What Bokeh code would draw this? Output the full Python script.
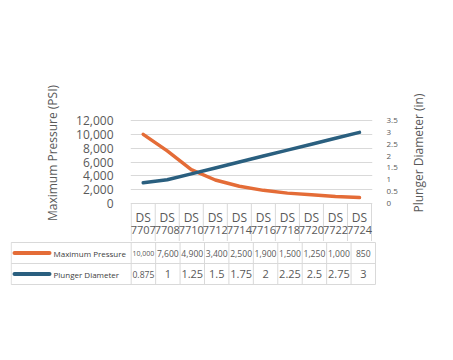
from bokeh.plotting import figure
from bokeh.models import (Range1d, LinearAxis, FixedTicker, NumeralTickFormatter,
                          ColumnDataSource)
from bokeh.layouts import column, row
from bokeh.core.properties import value
from bokeh.embed import file_html
from bokeh.resources import INLINE

# ---- data ----
categories = ["DS 7707", "DS 7708", "DS 7710", "DS 7712", "DS 7714",
              "DS 7716", "DS 7718", "DS 7720", "DS 7722", "DS 7724"]
max_pressure = [10000, 7600, 4900, 3400, 2500, 1900, 1500, 1250, 1000, 850]
plunger_diameter = [0.875, 1, 1.25, 1.5, 1.75, 2, 2.25, 2.5, 2.75, 3]
pressure_ticks = [0, 2000, 4000, 6000, 8000, 10000, 12000]
diameter_ticks = [0, 0.5, 1, 1.5, 2, 2.5, 3, 3.5]
series_names = ["Maximum Pressure", "Plunger Diameter"]

ORANGE = "#E46C37"
BLUE = "#2A5F7F"
GRID = "#D9D9D9"
TXT = "#595959"
FONT = "Open Sans"

n = len(categories)
xc = [i + 0.5 for i in range(n)]
colw = 24.43

# ---- chart figure ----
px_per_p = 83 / 12000.0
p = figure(width=400, height=241, title=None,
           x_range=Range1d(-0.0287, 10.041),
           y_range=Range1d(-38 / px_per_p, 12000 + 56 / px_per_p),
           output_backend="svg", toolbar_location=None,
           x_axis_location=None, y_axis_location="left",
           min_border_left=130, min_border_right=24,
           min_border_top=64, min_border_bottom=0)
p.frame_align = False
p.outline_line_color = None
p.xgrid.visible = False
p.ygrid.ticker = FixedTicker(ticks=pressure_ticks)
p.ygrid.grid_line_color = GRID
p.ygrid.grid_line_width = 1

ya = p.yaxis[0]
ya.ticker = FixedTicker(ticks=pressure_ticks)
ya.formatter = NumeralTickFormatter(format="0,0")
ya.axis_line_color = None
ya.major_tick_line_color = None
ya.minor_tick_line_color = None
ya.major_label_standoff = 11
ya.major_label_text_font = FONT
ya.major_label_text_font_size = "12px"
ya.major_label_text_color = TXT
ya.axis_label = "Maximum Pressure (PSI)"
ya.axis_label_text_font = FONT
ya.axis_label_text_font_size = "12px"
ya.axis_label_text_font_style = "normal"
ya.axis_label_text_color = TXT
ya.axis_label_standoff = 12

dscale = 3.5 / 83.0
p.extra_y_ranges = {"d": Range1d(-38 * dscale, 3.5 + 56 * dscale)}
ra = LinearAxis(y_range_name="d", ticker=FixedTicker(ticks=diameter_ticks),
                formatter=NumeralTickFormatter(format="0.[0]"))
ra.axis_line_color = None
ra.major_tick_line_color = None
ra.minor_tick_line_color = None
ra.major_label_standoff = 8
ra.major_label_text_font = FONT
ra.major_label_text_font_size = "8px"
ra.major_label_text_color = TXT
p.add_layout(ra, "right")

p.line(xc, max_pressure, line_color=ORANGE, line_width=3.5, line_cap="round", line_join="round")
p.line(xc, plunger_diameter, y_range_name="d", line_color=BLUE, line_width=3.5,
       line_cap="round", line_join="round")

# header cells of the data table (category labels)
bottom1 = p.y_range.start
p.segment(x0=list(range(n + 1)), x1=list(range(n + 1)),
          y0=[0] * (n + 1), y1=[bottom1] * (n + 1), line_color=GRID, line_width=1)
top_words = [c.split(" ")[0] for c in categories]
bot_words = [c.split(" ")[1] for c in categories]
p.text(x=xc, y=[-14 / px_per_p] * n, text=top_words, text_align="center",
       text_baseline="middle", text_font=value(FONT), text_font_size="12px", text_color=TXT)
p.text(x=xc, y=[-26 / px_per_p] * n, text=bot_words, text_align="center",
       text_baseline="middle", text_font=value(FONT), text_font_size="11px", text_color=TXT)

# ---- right-hand title strip (axis title reading bottom-to-top) ----
q = figure(width=40, height=241, title=None,
           x_range=Range1d(0, 1), y_range=Range1d(-1.6, 5.9),
           output_backend="svg", toolbar_location=None,
           x_axis_location=None, y_axis_location="left",
           min_border_left=26, min_border_right=4,
           min_border_top=64, min_border_bottom=0)
q.frame_align = False
q.outline_line_color = None
q.grid.visible = False
qa = q.yaxis[0]
qa.ticker = FixedTicker(ticks=[])
qa.axis_line_color = None
qa.major_tick_line_color = None
qa.minor_tick_line_color = None
qa.major_tick_out = 0
qa.major_label_standoff = 0
qa.axis_label = "Plunger Diameter (in)"
qa.axis_label_text_font = FONT
qa.axis_label_text_font_size = "12px"
qa.axis_label_text_font_style = "normal"
qa.axis_label_text_color = TXT
qa.axis_label_standoff = 0

# ---- table figure ----
t = figure(width=400, height=46, title=None,
           x_range=Range1d((10 - 130.7) / colw, 10.041),
           y_range=Range1d(-1 / 21.0, 2 + 1 / 21.0),
           output_backend="svg", toolbar_location=None,
           x_axis_location=None, y_axis_location=None,
           min_border_left=10, min_border_right=24,
           min_border_top=0, min_border_bottom=2)
t.frame_align = False
t.outline_line_color = None
t.grid.visible = False
xl = (10.7 - 130.7) / colw
# horizontal rules
t.segment(x0=[xl] * 3, x1=[n] * 3, y0=[0, 1, 2], y1=[0, 1, 2], line_color=GRID, line_width=1)
# vertical rules
vx = [xl] + list(range(n + 1))
t.segment(x0=vx, x1=vx, y0=[0] * len(vx), y1=[2] * len(vx), line_color=GRID, line_width=1)

# legend keys
kx0 = (14 - 130.7) / colw
kx1 = (49 - 130.7) / colw
t.segment(x0=[kx0, kx0], x1=[kx1, kx1], y0=[1.5, 0.5], y1=[1.5, 0.5],
          line_color=[ORANGE, BLUE], line_width=4, line_cap="round")
t.text(x=[(53 - 130.7) / colw] * 2, y=[1.5, 0.5], text=series_names, text_align="left",
       text_baseline="middle", text_font=value(FONT), text_font_size="8px", text_color="#404040")


def fit_size(s, base, avail=22.0):
    em = sum(0.572 if ch.isdigit() else 0.27 for ch in s)
    return "%.1fpx" % min(base, avail / em)


p_txt = ["{:,}".format(v) for v in max_pressure]
d_txt = ["{:g}".format(v) for v in plunger_diameter]
src = ColumnDataSource(dict(
    x=xc + xc,
    y=[1.5] * n + [0.5] * n,
    text=p_txt + d_txt,
    size=[fit_size(s, 8.6) for s in p_txt] + [fit_size(s, 11.0) for s in d_txt],
))
t.text(x="x", y="y", text="text", source=src, text_align="center", text_baseline="middle",
       text_font=value(FONT), text_font_size="size", text_color=TXT)

layout = row(column(p, t), q)
open("out.html", "w").write(file_html(layout, INLINE))
